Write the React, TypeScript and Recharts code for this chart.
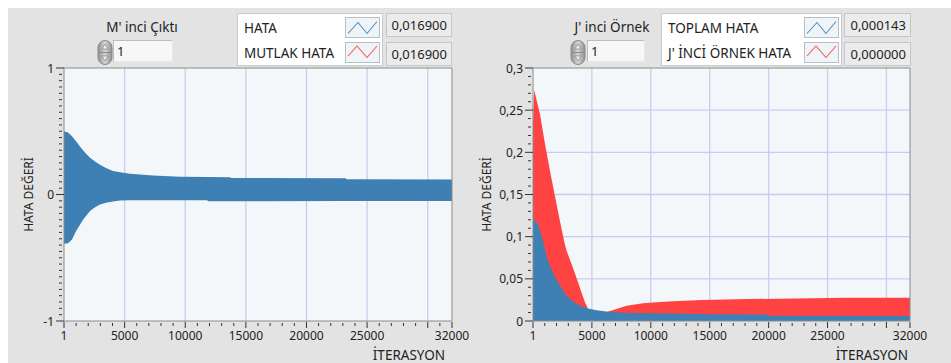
import React from 'react';
import { AreaChart, Area, XAxis, YAxis, CartesianGrid, ReferenceArea, Label } from 'recharts';

const FONT = "'Noto Sans', 'Open Sans', sans-serif";
const TEXT = '#222';
const BLUE = '#3e7fb4';
const RED = '#ff4242';
const GRID = '#cbcbef';
const PLOT_BG = '#f3f7f9';
const PANEL_BG = '#e3e3e3';
const FRAME = '#8a8a8a';

// ---- X axis (shared) ----
const xDomain = [1, 32000];
const xLabelTicks = [1, 5000, 10000, 15000, 20000, 25000, 32000];
const xMajorTicks = [1, 5000, 10000, 15000, 20000, 25000, 30000, 32000];
const xGridLines = [5000, 10000, 15000, 20000, 25000, 30000];
const xMinorTicks = [1, 1000, 2000, 3000, 4000, 5000, 6000, 7000, 8000, 9000, 10000, 11000, 12000, 13000, 14000, 15000, 16000, 17000, 18000, 19000, 20000, 21000, 22000, 23000, 24000, 25000, 26000, 27000, 28000, 29000, 30000, 31000, 32000];

// ---- Left chart: HATA (oscillating error band: upper / lower envelope) ----
const leftYDomain = [-1, 1];
const leftYMajor = [-1, 0, 1];
const leftYMinorStep = 0.05;
const leftIter = [1, 330, 660, 990, 1320, 1570, 1900, 2145, 2560, 2970, 3460, 4040, 4620, 5440, 7340, 9570, 11800, 11900, 13700, 13800, 23200, 23300, 32000];
const hataUpper = [0.5, 0.49, 0.46, 0.42, 0.38, 0.35, 0.315, 0.29, 0.26, 0.235, 0.21, 0.185, 0.175, 0.165, 0.15, 0.14, 0.138, 0.138, 0.137, 0.13, 0.128, 0.12, 0.118];
const hataLower = [-0.39, -0.385, -0.355, -0.29, -0.24, -0.2, -0.16, -0.13, -0.1, -0.08, -0.065, -0.055, -0.048, -0.045, -0.045, -0.045, -0.045, -0.053, -0.053, -0.053, -0.052, -0.052, -0.052];

// ---- Right chart: TOPLAM HATA / J' INCI ORNEK HATA ----
const rightYDomain = [0, 0.3];
const rightYMajor = [0, 0.05, 0.1, 0.15, 0.2, 0.25, 0.3];
const rightYMinorStep = 0.01;
const rightYGrid = [0.05, 0.1, 0.15, 0.2, 0.25];
const ornekIter = [1, 100, 600, 1020, 1444, 1868, 2293, 2717, 2861, 3421, 3990, 4415, 4695, 5200, 6200, 6537, 7954, 9338, 10186, 11884, 14320, 18250, 26483, 32000];
const ornekVal = [0.237, 0.274, 0.245, 0.21, 0.178, 0.148, 0.118, 0.09, 0.083, 0.062, 0.039, 0.022, 0.014, 0.011, 0.0105, 0.012, 0.018, 0.021, 0.022, 0.0235, 0.025, 0.026, 0.0275, 0.0275];
const toplamIter = [1, 425, 850, 1020, 1274, 1700, 2293, 2887, 3735, 4559, 5408, 6366, 7105, 8234, 11350, 15025, 19900, 20000, 32000];
const toplamVal = [0.121, 0.115, 0.095, 0.085, 0.071, 0.057, 0.042, 0.029, 0.02, 0.015, 0.0127, 0.011, 0.0104, 0.0095, 0.0088, 0.008, 0.0078, 0.0063, 0.006];

// ---- Texts ----
const leftTitle = "M' inci Çıktı";
const rightTitle = "J' inci Örnek";
const leftLegend = ['HATA', 'MUTLAK HATA'];
const leftValues = ['0,016900', '0,016900'];
const rightLegend = ['TOPLAM HATA', "J' İNCİ ÖRNEK HATA"];
const rightValues = ['0,000143', '0,000000'];
const yTitle = 'HATA DEĞERİ';
const xTitle = 'İTERASYON';

const leftBand = leftIter.map((it, i) => ({ x: it, hata: [hataLower[i], hataUpper[i]] }));

const rightIters = Array.from(new Set([...ornekIter, ...toplamIter])).sort((a, b) => a - b);
const rightData = rightIters.map((it) => {
  const ri = ornekIter.indexOf(it);
  const bi = toplamIter.indexOf(it);
  return { x: it, ornek: ri >= 0 ? ornekVal[ri] : null, toplam: bi >= 0 ? toplamVal[bi] : null };
});

const stepTicks = (lo: number, hi: number, step: number) => {
  const n = Math.round((hi - lo) / step);
  return Array.from({ length: n + 1 }, (_, i) => Math.round((lo + i * step) * 1000) / 1000);
};
const leftYTicks = stepTicks(leftYDomain[0], leftYDomain[1], leftYMinorStep);
const rightYTicks = stepTicks(rightYDomain[0], rightYDomain[1], rightYMinorStep);

const fmt = (v: number) => String(Math.round(v * 1000) / 1000).replace('.', ',');
const isIn = (arr: number[], v: number) => arr.some((a) => Math.abs(a - v) < 1e-9);

const XTick = (props: any) => {
  const { x, y, payload } = props;
  const v = payload.value;
  const major = isIn(xMajorTicks, v);
  return (
    <g>
      <line x1={x} x2={x} y1={y + (major ? 1 : 2)} y2={y + (major ? 7 : 5)} stroke="#333" strokeWidth={1} />
      {isIn(xLabelTicks, v) && (
        <text x={x} y={y + 19} textAnchor="middle" fontFamily={FONT} fontSize={12} fill={TEXT}>
          {v}
        </text>
      )}
    </g>
  );
};

const makeYTick = (majors: number[]) => (props: any) => {
  const { x, y, payload } = props;
  const v = payload.value;
  const major = isIn(majors, v);
  return (
    <g>
      <line x1={major ? x - 8 : x - 5} x2={major ? x : x - 2} y1={y} y2={y} stroke="#333" strokeWidth={1} />
      {major && (
        <text x={x - 10} y={y + 4.5} textAnchor="end" fontFamily={FONT} fontSize={12} fill={TEXT}>
          {fmt(v)}
        </text>
      )}
    </g>
  );
};
const LeftYTick = makeYTick(leftYMajor);
const RightYTick = makeYTick(rightYMajor);

const makeXLabel = (pad: number) => (props: any) => {
  const vb = props.viewBox || { x: 0, y: 0, width: 0, height: 0 };
  return (
    <text x={vb.x + vb.width - pad} y={vb.y + vb.height - 3} textAnchor="end" fontFamily={FONT} fontSize={13.5} fill={TEXT}>
      {xTitle}
    </text>
  );
};
const makeYLabel = (cx: number) => (props: any) => {
  const vb = props.viewBox || { x: 0, y: 0, width: 0, height: 0 };
  const cy = vb.y + vb.height / 2;
  return (
    <text x={cx} y={cy} transform={`rotate(-90, ${cx}, ${cy})`} textAnchor="middle" dominantBaseline="central" fontFamily={FONT} fontSize={12} fill={TEXT}>
      {yTitle}
    </text>
  );
};

const LegendIcon = ({ color, top, left, zig }: { color: string; top: number; left: number; zig: string }) => (
  <svg width={35} height={21} style={{ position: 'absolute', left, top }}>
    <rect x={0.5} y={0.5} width={34} height={20} fill="#eef4f8" stroke="#b7bec6" />
    <polyline points={zig} fill="none" stroke={color} strokeWidth={1.1} />
  </svg>
);

const Spinner = ({ left, top, id }: { left: number; top: number; id: string }) => (
  <svg width={16} height={25} style={{ position: 'absolute', left, top }}>
    <defs>
      <linearGradient id={id} x1="0" x2="1" y1="0" y2="0">
        <stop offset="0" stopColor="#8e8e8e" />
        <stop offset="0.5" stopColor="#d6d6d6" />
        <stop offset="1" stopColor="#8e8e8e" />
      </linearGradient>
    </defs>
    <rect x={1} y={0.5} width={14} height={24} rx={7} fill={`url(#${id})`} stroke="#8a8a8a" />
    <line x1={2} x2={14} y1={12.5} y2={12.5} stroke="#8a8a8a" />
    <path d="M5 9 L8 4 L11 9 Z" fill="#eeeeee" stroke="#777" strokeWidth={0.6} />
    <path d="M5 16 L8 21 L11 16 Z" fill="#eeeeee" stroke="#777" strokeWidth={0.6} />
  </svg>
);

const NumBox = ({ left, top, width }: { left: number; top: number; width: number }) => (
  <div
    style={{
      position: 'absolute', left, top, width, height: 22, boxSizing: 'border-box',
      background: '#f7f7f7', borderTop: '1px solid #bdbdbd', borderLeft: '1px solid #bdbdbd',
      borderRight: '1px solid #e9e9e9', borderBottom: '1px solid #e9e9e9',
      fontSize: 13, lineHeight: '20px', paddingLeft: 3, color: TEXT,
    }}
  >
    1
  </div>
);

const ValueBox = ({ left, top, width, text }: { left: number; top: number; width: number; text: string }) => (
  <div
    style={{
      position: 'absolute', left, top, width, height: 24, boxSizing: 'border-box',
      background: '#ebebeb', border: '1px solid #c6c6c6', fontSize: 13, lineHeight: '22px',
      textAlign: 'right', paddingRight: 4, color: TEXT,
    }}
  >
    {text}
  </div>
);

const LegendBox = ({ left, width, labels, colors, iconLeft }: { left: number; width: number; labels: string[]; colors: string[]; iconLeft: number }) => (
  <div
    style={{
      position: 'absolute', left, top: 5, width, height: 53, boxSizing: 'border-box',
      background: '#ffffff', border: '1px solid #c9c9c9',
    }}
  >
    {labels.map((l, i) => (
      <div key={l} style={{ position: 'absolute', left: 6, top: i === 0 ? 4 : 29, fontSize: 13.5, lineHeight: '20px', color: TEXT, whiteSpace: 'nowrap' }}>
        {l}
      </div>
    ))}
    <LegendIcon color={colors[0]} top={3} left={iconLeft} zig="3,16.5 13,5.5 22,16.5 32,4.5" />
    <LegendIcon color={colors[1]} top={28} left={iconLeft} zig="3,14 12,4 22,15.5 32,4" />
  </div>
);

export default function App() {
  return (
    <div style={{ position: 'absolute', left: 8, top: 8, width: 943, height: 355, background: PANEL_BG, fontFamily: FONT, overflow: 'hidden' }}>
      {/* Left chart */}
      <div style={{ position: 'absolute', left: 0, top: 0 }}>
        <AreaChart width={470} height={355} data={leftBand} margin={{ top: 60, right: 26, bottom: 0, left: 0 }}>
          <CartesianGrid horizontal={false} verticalValues={xGridLines} stroke={GRID} strokeWidth={1.3} fill={PLOT_BG} fillOpacity={1} />
          <XAxis dataKey="x" type="number" domain={xDomain} ticks={xMinorTicks} interval={0} height={42} tickSize={0} tickMargin={0} tickLine={false} axisLine={false} tick={<XTick />} allowDataOverflow>
            <Label content={makeXLabel(7)} />
          </XAxis>
          <YAxis type="number" domain={leftYDomain} ticks={leftYTicks} interval={0} width={56} tickSize={0} tickMargin={0} tickLine={false} axisLine={false} tick={<LeftYTick />} allowDataOverflow>
            <Label content={makeYLabel(20)} />
          </YAxis>
          <Area type="linear" dataKey="hata" stroke="none" fill={BLUE} fillOpacity={1} isAnimationActive={false} />
          <ReferenceArea x1={xDomain[0]} x2={xDomain[1]} y1={leftYDomain[0]} y2={leftYDomain[1]} fill="none" stroke={FRAME} strokeWidth={1} />
        </AreaChart>
      </div>

      {/* Right chart */}
      <div style={{ position: 'absolute', left: 470, top: 0 }}>
        <AreaChart width={473} height={355} data={rightData} margin={{ top: 60, right: 41, bottom: 0, left: 0 }}>
          <CartesianGrid horizontalValues={rightYGrid} verticalValues={xGridLines} stroke={GRID} strokeWidth={1.3} fill={PLOT_BG} fillOpacity={1} />
          <XAxis dataKey="x" type="number" domain={xDomain} ticks={xMinorTicks} interval={0} height={42} tickSize={0} tickMargin={0} tickLine={false} axisLine={false} tick={<XTick />} allowDataOverflow>
            <Label content={makeXLabel(2)} />
          </XAxis>
          <YAxis type="number" domain={rightYDomain} ticks={rightYTicks} interval={0} width={55} tickSize={0} tickMargin={0} tickLine={false} axisLine={false} tick={<RightYTick />} allowDataOverflow>
            <Label content={makeYLabel(8)} />
          </YAxis>
          <Area type="linear" dataKey="ornek" stroke="none" fill={RED} fillOpacity={1} connectNulls isAnimationActive={false} />
          <Area type="linear" dataKey="toplam" stroke="none" fill={BLUE} fillOpacity={1} connectNulls isAnimationActive={false} />
          <ReferenceArea x1={xDomain[0]} x2={xDomain[1]} y1={rightYDomain[0]} y2={rightYDomain[1]} fill="none" stroke={FRAME} strokeWidth={1} />
        </AreaChart>
      </div>

      {/* Left controls */}
      <div style={{ position: 'absolute', left: 93, top: 9, width: 82, textAlign: 'center', fontSize: 13.5, lineHeight: '20px', color: TEXT, whiteSpace: 'nowrap' }}>{leftTitle}</div>
      <Spinner left={89} top={32} id="spinL" />
      <NumBox left={105} top={32} width={60} />
      <LegendBox left={229} width={146} labels={leftLegend} colors={['#4a8fcc', '#ff5555']} iconLeft={107} />
      <ValueBox left={378} top={5} width={66} text={leftValues[0]} />
      <ValueBox left={378} top={34} width={66} text={leftValues[1]} />

      {/* Right controls */}
      <div style={{ position: 'absolute', left: 562, top: 9, width: 84, textAlign: 'center', fontSize: 13.5, lineHeight: '20px', color: TEXT, whiteSpace: 'nowrap' }}>{rightTitle}</div>
      <Spinner left={562} top={32} id="spinR" />
      <NumBox left={579} top={32} width={58} />
      <LegendBox left={653} width={181} labels={rightLegend} colors={['#4a8fcc', '#ff5555']} iconLeft={142} />
      <ValueBox left={836} top={5} width={67} text={rightValues[0]} />
      <ValueBox left={836} top={34} width={67} text={rightValues[1]} />
    </div>
  );
}
